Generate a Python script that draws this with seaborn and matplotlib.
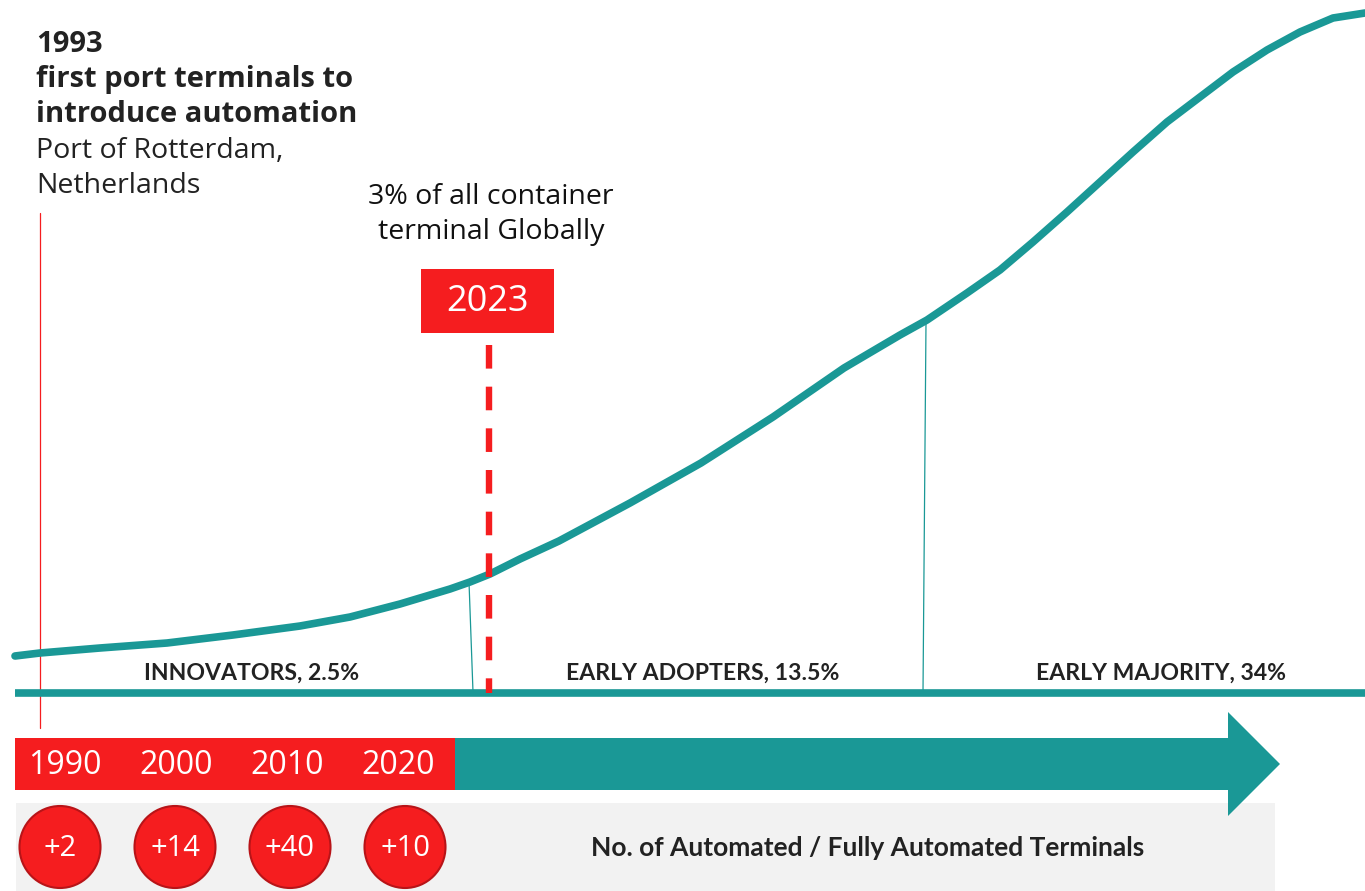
import matplotlib
matplotlib.use('Agg')
import matplotlib.pyplot as plt
import matplotlib.patches as mpatches
import seaborn as sns
import pandas as pd

# adoption curve (canvas px, y grows downward)
curve_x = [15, 40, 100, 167, 233, 300, 350, 400, 450, 470, 490, 520, 559,
           630, 701, 773, 844, 900, 927, 967, 1000, 1033, 1067, 1100, 1133,
           1167, 1200, 1233, 1267, 1300, 1333, 1365]
curve_y = [656, 653, 648, 643, 635, 626, 617, 604, 589, 582, 574, 559, 541,
           503, 463, 417, 368, 335, 320, 293, 270, 242, 212, 182, 152,
           122, 97, 72, 50, 32, 18, 13]

decades = ['1990', '2000', '2010', '2020']
new_terminals = [2, 14, 40, 10]

phases = ['INNOVATORS, 2.5%', 'EARLY ADOPTERS, 13.5%', 'EARLY MAJORITY, 34%']
phase_centers = [252, 703, 1161]
phase_edges = [(469, 582, 473), (926, 322, 923)]

TEAL = '#1A9896'
RED = '#F51D1F'
DARK = '#222222'
GREY = '#F2F2F2'

sns.set_theme(style='white')
plt.rcParams['font.family'] = ['Open Sans', 'DejaVu Sans']
plt.rcParams['lines.scale_dashes'] = False

fig = plt.figure(figsize=(13.65, 8.91), dpi=100)
ax = fig.add_axes([0, 0, 1, 1])
ax.set_xlim(0, 1365)
ax.set_ylim(891, 0)
ax.axis('off')

# grey band behind the counts
ax.add_patch(mpatches.Rectangle((16, 803), 1259, 88, color=GREY, lw=0, zorder=0))

# S-curve
curve = pd.DataFrame({'x': curve_x, 'y': curve_y})
sns.lineplot(data=curve, x='x', y='y', sort=False, color=TEAL, lw=5.5,
             ax=ax, zorder=3)
ax.lines[-1].set_solid_joinstyle('round')
ax.hlines(693, 15, 1365, color=TEAL, lw=5.5, zorder=3)

# phase separators
for x_top, y_top, x_bot in phase_edges:
    ax.plot([x_top, x_bot], [y_top, 692], color=TEAL, lw=0.9, zorder=2)

for label, cx in zip(phases, phase_centers):
    ax.text(cx, 673, label, ha='center', va='center', fontsize=16.6,
            fontweight='bold', family=['Lato', 'DejaVu Sans'], color=DARK)

# 1993 marker
ax.plot([40, 40], [213, 728], color=RED, lw=0.9, zorder=2)
ax.text(36, 45, '1993', fontsize=21, fontweight='bold', color=DARK, va='center')
ax.text(36, 80, 'first port terminals to', fontsize=21, fontweight='bold',
        color=DARK, va='center')
ax.text(36, 115, 'introduce automation', fontsize=21, fontweight='bold',
        color=DARK, va='center')
ax.text(36, 151, 'Port of Rotterdam,', fontsize=20.5, color=DARK, va='center')
ax.text(36, 186, 'Netherlands', fontsize=20.5, color=DARK, va='center')

# 2023 marker
ax.text(491, 197, '3% of all container', fontsize=20.5, color='#111111',
        ha='center', va='center')
ax.text(491, 232, 'terminal Globally', fontsize=20.5, color='#111111',
        ha='center', va='center')
ax.add_patch(mpatches.Rectangle((421, 269), 133, 64, color=RED, lw=0, zorder=4))
ax.text(487, 302, '2023', fontsize=26, color='white', ha='center',
        va='center', zorder=5)
ax.plot([489, 489], [345, 693], color=RED, lw=4.6, dashes=(17, 13),
        solid_capstyle='butt', dash_capstyle='butt', zorder=4)

# timeline arrow
ax.add_patch(mpatches.Rectangle((15, 738), 440, 52, color=RED, lw=0, zorder=2))
ax.add_patch(mpatches.Polygon([(455, 738), (1228, 738), (1228, 712), (1280, 764),
                               (1228, 816), (1228, 790), (455, 790)],
                              closed=True, color=TEAL, lw=0, zorder=2))
for i, year in enumerate(decades):
    ax.text(65 + i * 111, 765, year, fontsize=23, color='white',
            ha='center', va='center', zorder=5)

# new terminals per decade
for i, n in enumerate(new_terminals):
    cx = 60 + i * 115
    ax.add_patch(mpatches.Ellipse((cx, 847), 81, 82, facecolor=RED,
                                  edgecolor='#B81418', lw=1.5, zorder=4))
    ax.text(cx, 848, f'+{n}', fontsize=21, color='white', ha='center',
            va='center', zorder=5)

ax.text(868, 848, 'No. of Automated / Fully Automated Terminals', fontsize=19,
        fontweight='bold', family=['Lato', 'DejaVu Sans'], color=DARK,
        ha='center', va='center')

fig.savefig('out.png', dpi=100)
